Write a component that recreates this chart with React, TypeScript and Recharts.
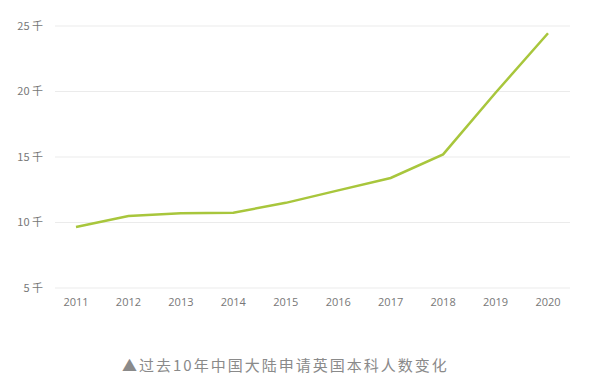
import { LineChart, Line, XAxis, YAxis, CartesianGrid } from 'recharts'

const years = ['2011', '2012', '2013', '2014', '2015', '2016', '2017', '2018', '2019', '2020']
// thousands of applicants
const applicants = [9.65, 10.5, 10.7, 10.75, 11.5, 12.45, 13.4, 15.2, 19.9, 24.45]
const yTicks = [5, 10, 15, 20, 25]
const caption = '▲过去10年中国大陆申请英国本科人数变化'

const chartData = years.map((year, i) => ({ year, value: applicants[i] }))

const fontFamily = '"Open Sans", "Noto Sans CJK SC", sans-serif'

export default function App() {
  return (
    <div
      style={{
        position: 'absolute',
        left: 0,
        top: 0,
        width: 601,
        height: 377,
        background: '#fff',
        fontFamily,
      }}
    >
      <LineChart
        width={601}
        height={320}
        data={chartData}
        margin={{ top: 26, right: 31, bottom: 0, left: 5 }}
      >
        <CartesianGrid vertical={false} stroke="#ebebeb" strokeWidth={1} />
        <XAxis
          dataKey="year"
          axisLine={false}
          tickLine={false}
          tick={{ fill: '#777', fontSize: 11, fontFamily }}
          tickMargin={4}
          height={32}
          interval={0}
          padding={{ left: 21, right: 22 }}
        />
        <YAxis
          domain={[5, 25]}
          ticks={yTicks}
          axisLine={false}
          tickLine={false}
          width={50}
          tickMargin={6}
          tick={{ fill: '#777', fontSize: 11, fontFamily: '"Noto Sans CJK SC", sans-serif' }}
          tickFormatter={(v: number) => `${v} 千`}
        />
        <Line
          type="linear"
          dataKey="value"
          stroke="#a8c63c"
          strokeWidth={2.5}
          dot={false}
          isAnimationActive={false}
        />
      </LineChart>
      <div
        style={{
          position: 'absolute',
          left: 122,
          top: 356,
          fontSize: 15,
          lineHeight: '18px',
          color: '#8a8a8a',
          letterSpacing: 2,
          whiteSpace: 'nowrap',
          fontFamily: '"Noto Sans CJK SC", sans-serif',
        }}
      >
        {caption}
      </div>
    </div>
  )
}
